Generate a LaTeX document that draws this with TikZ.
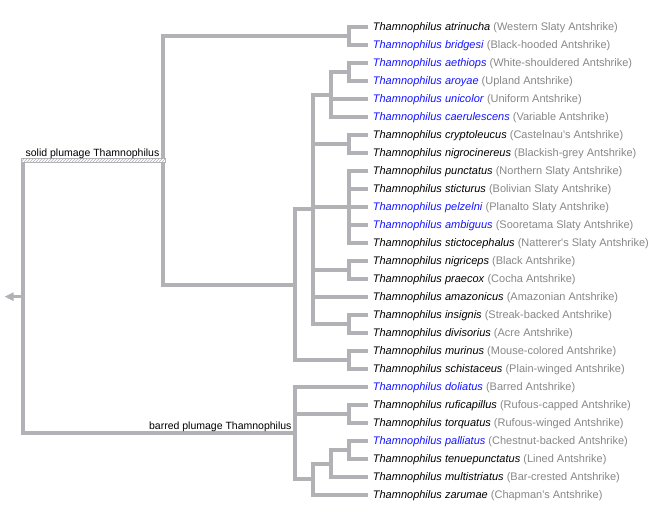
\documentclass[tikz,border=0pt]{standalone}
\usepackage{fontspec}
\setmainfont{Liberation Sans}
\usetikzlibrary{arrows.meta,patterns}
\definecolor{edge}{RGB}{178,178,182}
\definecolor{cname}{RGB}{135,135,135}
\definecolor{sblue}{RGB}{20,20,255}
\begin{document}
\begin{tikzpicture}[x=1pt,y=-1pt,
  edgeline/.style={draw=edge,line width=4pt},
  leaf/.style={anchor=west,inner xsep=4.4pt,inner ysep=0pt,text height=6pt,text depth=0pt,
    font=\fontsize{11}{13}\selectfont},
  grplabel/.style={anchor=base east,inner sep=0pt,font=\fontsize{10.5}{12}\selectfont}]
\useasboundingbox (0,0) rectangle (669,507);
% leaves
\foreach \sp/\cn/\col [count=\i from 0] in {
  atrinucha/Western Slaty Antshrike/black,
  bridgesi/Black-hooded Antshrike/sblue,
  aethiops/White-shouldered Antshrike/sblue,
  aroyae/Upland Antshrike/sblue,
  unicolor/Uniform Antshrike/sblue,
  caerulescens/Variable Antshrike/sblue,
  cryptoleucus/Castelnau\textquotesingle s Antshrike/black,
  nigrocinereus/Blackish-grey Antshrike/black,
  punctatus/Northern Slaty Antshrike/black,
  sticturus/Bolivian Slaty Antshrike/black,
  pelzelni/Planalto Slaty Antshrike/sblue,
  ambiguus/Sooretama Slaty Antshrike/sblue,
  stictocephalus/Natterer\textquotesingle s Slaty Antshrike/black,
  nigriceps/Black Antshrike/black,
  praecox/Cocha Antshrike/black,
  amazonicus/Amazonian Antshrike/black,
  insignis/Streak-backed Antshrike/black,
  divisorius/Acre Antshrike/black,
  murinus/Mouse-colored Antshrike/black,
  schistaceus/Plain-winged Antshrike/black,
  doliatus/Barred Antshrike/sblue,
  ruficapillus/Rufous-capped Antshrike/black,
  torquatus/Rufous-winged Antshrike/black,
  palliatus/Chestnut-backed Antshrike/sblue,
  tenuepunctatus/Lined Antshrike/black,
  multistriatus/Bar-crested Antshrike/black,
  zarumae/Chapman\textquotesingle s Antshrike/black}
  \node[leaf] (l\i) at (368.3,{27+18*\i}) {\textcolor{\col}{\textit{Thamnophilus \sp}} \textcolor{cname}{(\cn)}};
% internal nodes
\coordinate (A1) at (349.3,36);
\coordinate (A2) at (349.3,72);
\coordinate (B1) at (331.3,94.5);
\coordinate (A3) at (349.3,144);
\coordinate (A4) at (349.3,207);
\coordinate (A5) at (349.3,270);
\coordinate (A6) at (349.3,324);
\coordinate (C1) at (313.3,209.25);
\coordinate (A7) at (349.3,360);
\coordinate (D1) at (295,284.6);
\coordinate (E1) at (163.3,160.3);
\coordinate (A8) at (349.3,414);
\coordinate (A9) at (349.3,450);
\coordinate (B2) at (331.3,463.5);
\coordinate (C2) at (313.3,479.25);
\coordinate (D2) at (295,433.1);
\coordinate (R) at (23,296.7);
\coordinate (tip) at (4.5,296.7);
% connectors
\draw[edgeline] (A1) |- (l0.west) (A1) |- (l1.west);
\draw[edgeline] (A2) |- (l2.west) (A2) |- (l3.west);
\draw[edgeline] (B1) |- (A2) (B1) |- (l4.west) (B1) |- (l5.west);
\draw[edgeline] (A3) |- (l6.west) (A3) |- (l7.west);
\draw[edgeline] (A4) |- (l8.west) (A4) |- (l9.west) (A4) |- (l10.west) (A4) |- (l11.west) (A4) |- (l12.west);
\draw[edgeline] (A5) |- (l13.west) (A5) |- (l14.west);
\draw[edgeline] (A6) |- (l16.west) (A6) |- (l17.west);
\draw[edgeline] (C1) |- (B1) (C1) |- (A3) (C1) |- (A4) (C1) |- (A5) (C1) |- (l15.west) (C1) |- (A6);
\draw[edgeline] (A7) |- (l18.west) (A7) |- (l19.west);
\draw[edgeline] (D1) |- (C1) (D1) |- (A7);
\draw[edgeline] (E1) |- (A1) (E1) |- (D1);
\draw[edgeline] (A8) |- (l21.west) (A8) |- (l22.west);
\draw[edgeline] (A9) |- (l23.west) (A9) |- (l24.west);
\draw[edgeline] (B2) |- (A9) (B2) |- (l25.west);
\draw[edgeline] (C2) |- (B2) (C2) |- (l26.west);
\draw[edgeline] (D2) |- (l20.west) (D2) |- (A8) (D2) |- (C2);
\draw[edgeline] (R) |- (D2);
\draw[edgeline] (R) -- ([yshift=-2pt]R |- E1);
% hatched solid-plumage edge
\filldraw[draw=edge,line width=0.6pt,fill=white,postaction={pattern=north east lines,pattern color=edge}]
  ([xshift=-2pt,yshift=2.3pt]R |- E1) rectangle ([xshift=2pt,yshift=-2.3pt]E1);
% root arrow
\draw[edgeline,line width=3pt,-{Triangle[length=9pt,width=8pt]}] (R) -- (tip);
% group labels
\node[grplabel] (solid) at (159.5,156) {solid plumage Thamnophilus};
\node[grplabel] (barred) at (291.7,429) {barred plumage Thamnophilus};
\end{tikzpicture}
\end{document}
